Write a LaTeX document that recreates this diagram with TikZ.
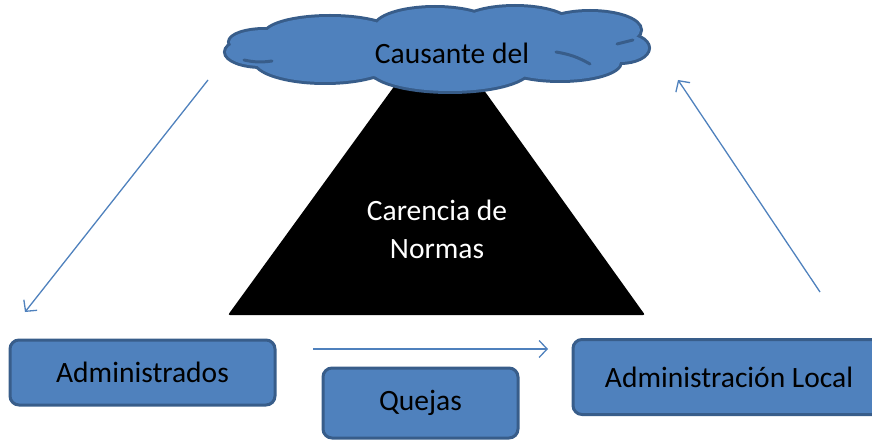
\documentclass[tikz,border=0pt]{standalone}
\usepackage{fontspec}
\setmainfont{Carlito}
\usetikzlibrary{arrows.meta}
\definecolor{boxblue}{HTML}{4F81BD}
\definecolor{boxedge}{HTML}{385D8A}
\tikzset{
  box/.style={draw=boxedge, line width=3pt, fill=boxblue, rounded corners=9pt,
    font=\fontsize{29.5}{36}\selectfont, inner sep=0pt},
  flow/.style={->, draw=boxblue, line width=1.3pt},
}
\newcommand{\puffs}{262/52/36/14, 325/60/70/22, 450/68/80/23, 560/62/60/18, 620/48/28/14,
  590/30/50/18, 515/25/55/18, 435/28/60/20, 330/35/65/18, 265/42/35/12, 437/50/180/28}
\begin{document}
\begin{tikzpicture}[x=1pt, y=-1pt, >={Straight Barb[length=8pt,width=17pt]}]
  \useasboundingbox (0,0) rectangle (872,441);

  \fill[black, rounded corners=2pt] (228,315) -- (645,315) -- (438,26) -- cycle;
  \node[align=center, text=white, font=\fontsize{29.5}{38}\selectfont] (normas) at (437,229) {Carencia de\\Normas};

  \foreach \x/\y/\a/\b in \puffs
    \draw[boxedge, line width=6pt] (\x,\y) ellipse [x radius=\a, y radius=\b];
  \foreach \x/\y/\a/\b in \puffs
    \fill[boxblue] (\x,\y) ellipse [x radius=\a, y radius=\b];
  \draw[boxedge, line width=3pt, line cap=round] (244,60) to[bend right=10] (272,61);
  \draw[boxedge, line width=3pt, line cap=round] (556,52) to[bend left=10] (590,64);
  \draw[boxedge, line width=3pt, line cap=round] (617,44) -- (633,40);
  \node[font=\fontsize{29.5}{36}\selectfont] (causa) at (452,53) {Causante del};

  \node[box, minimum width=265pt, minimum height=65pt] (admin) at (142.5,372.5) {Administrados};
  \node[box, minimum width=195pt, minimum height=70pt] (quejas) at (420.5,403) {Quejas};
  \node[box, minimum width=312pt, minimum height=75pt] (local) at (729,377) {Administración Local};

  \coordinate (c1) at (208,80);
  \coordinate (c2) at (25,312);
  \coordinate (c3) at (313,349);
  \coordinate (c4) at (548,349);
  \coordinate (c5) at (820,292);
  \coordinate (c6) at (678,80);

  \draw[flow] (c1) -- (c2);
  \draw[flow] (c3) -- (c4);
  \draw[flow] (c5) -- (c6);
\end{tikzpicture}
\end{document}
